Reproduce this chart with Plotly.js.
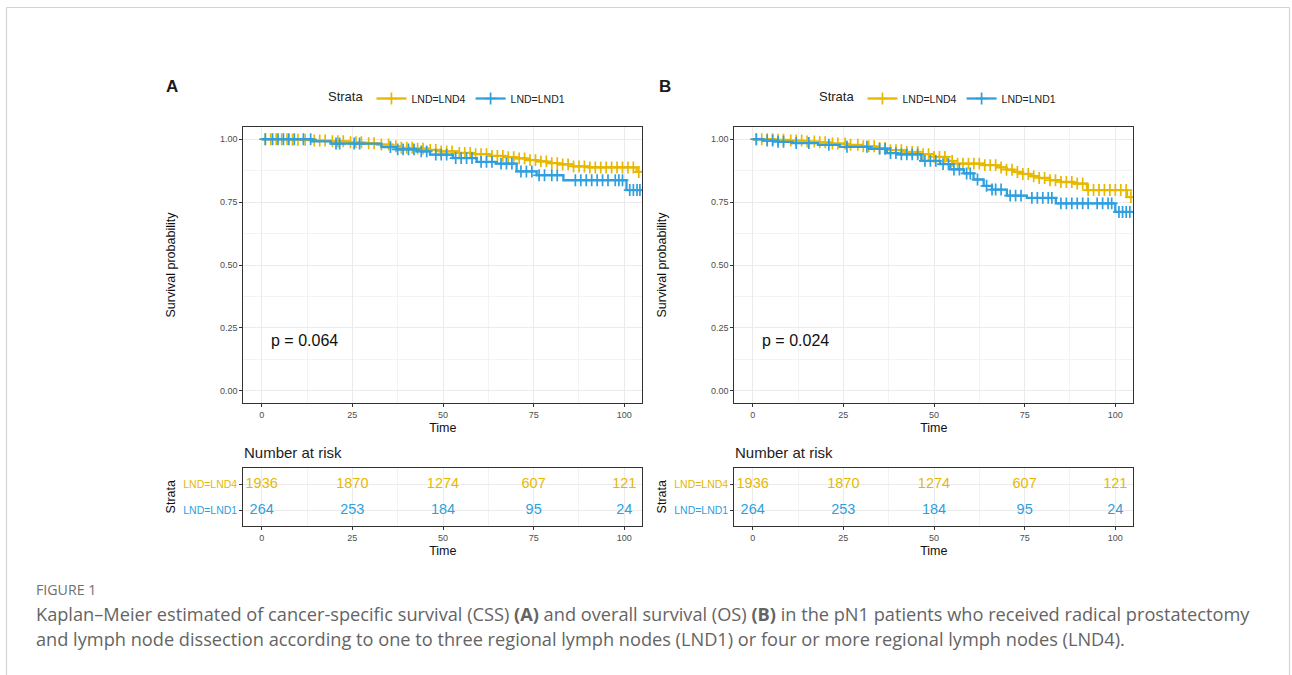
<!DOCTYPE html>
<html>
<head>
<meta charset="utf-8">
<script src="https://cdn.plot.ly/plotly-3.0.1.min.js"></script>
<style>
html,body{margin:0;padding:0;background:#fff;}
#chart{width:1292px;height:675px;}
</style>
</head>
<body>
<div id="chart"></div>
<script>
// ---------------- DATA ----------------
const strataNames = ['LND=LND4', 'LND=LND1'];
const colL4 = '#E7B800';
const colL1 = '#2E9FDF';

// Panel A: cancer-specific survival
const aL4Time = [0, 8, 14, 19, 24, 28, 32, 36, 38, 42, 46, 49, 54, 58, 63, 67, 70, 73, 76, 78.6, 82, 85.9, 90, 103.4];
const aL4Surv = [1.0, 0.998, 0.995, 0.992, 0.988, 0.984, 0.979, 0.972, 0.966, 0.963, 0.958, 0.952, 0.946, 0.941, 0.934, 0.929, 0.924, 0.917, 0.912, 0.905, 0.900, 0.892, 0.888, 0.870];
const aL4End = 104.8;
const aL4Censor = [1, 2.5, 4, 5.5, 7, 8.5, 10, 12, 14.5, 16, 17.5, 19.5, 21, 22.5, 24.5, 26, 27.5, 29.5, 31, 33, 35, 37, 38.5, 40, 41.5, 43, 44.5, 46.5, 48, 49.5, 51, 52.5, 54.5, 56, 57.5, 59, 60.5, 62, 63.5, 65, 66.5, 68, 69.5, 71, 72.5, 74, 75.5, 77, 78.5, 80, 81.5, 83, 84.5, 86, 87.5, 89, 90.5, 92, 93.5, 95, 96.5, 98, 99.5, 101, 102.5, 104];

const aL1Time = [0, 14, 19, 33, 37, 42.7, 46.4, 52.8, 59.3, 64.5, 70.3, 75.8, 83.2, 100.6];
const aL1Surv = [1.0, 0.992, 0.983, 0.969, 0.960, 0.952, 0.939, 0.925, 0.910, 0.903, 0.872, 0.857, 0.837, 0.798];
const aL1End = 104.8;
const aL1Censor = [1, 3, 4.5, 6, 7.5, 9, 11.5, 13.5, 20.5, 21.5, 25.5, 27, 35.5, 37.5, 39, 40.5, 42, 44, 45.5, 48, 49.5, 51, 53.5, 55, 56.5, 58, 60.5, 62, 63.5, 66, 67.5, 69, 71.5, 73, 74.5, 76.5, 78, 80, 81.5, 86.5, 88, 89.5, 91, 92.5, 94, 95.5, 97.5, 98.5, 99.5, 101.5, 102.5, 103.5, 104.3];

// Panel B: overall survival
const bL4Time = [0, 6, 10, 14, 18, 22, 26, 30, 34, 38, 42, 46, 50, 53.6, 55.4, 63.7, 67.4, 70, 72, 74.5, 76.6, 79, 82, 85, 88.6, 92.2, 103.2];
const bL4Surv = [1.0, 0.998, 0.995, 0.991, 0.988, 0.983, 0.978, 0.972, 0.965, 0.957, 0.950, 0.941, 0.930, 0.914, 0.903, 0.897, 0.888, 0.879, 0.870, 0.862, 0.853, 0.846, 0.837, 0.830, 0.824, 0.798, 0.770];
const bL4End = 104.8;
const bL4Censor = [1, 2.5, 4, 5.5, 7, 8.5, 10.5, 12, 13.5, 15, 17, 18.5, 20, 22, 23.5, 25.5, 27, 29, 30.5, 32, 33.5, 35, 36.5, 38, 39.5, 41, 42.5, 44, 45.5, 47, 48.5, 50, 51.5, 53, 55, 56.5, 58, 59.5, 61, 62.5, 64, 65.5, 67, 68.5, 70, 71.5, 73, 74.5, 76, 77.5, 79, 80.5, 82, 83.5, 85, 86.5, 88, 89.5, 91, 92.5, 94, 95.5, 97, 98.5, 100, 101.5, 103, 104.3];

const bL1Time = [0, 3, 7, 11, 18, 24, 32, 37, 40, 46.5, 51.7, 54.5, 58.2, 60.9, 63.7, 66, 70.1, 75.6, 83.6, 100];
const bL1Surv = [1.0, 0.995, 0.990, 0.985, 0.978, 0.970, 0.962, 0.945, 0.940, 0.914, 0.901, 0.880, 0.864, 0.840, 0.815, 0.800, 0.776, 0.767, 0.745, 0.711];
const bL1End = 104.8;
const bL1Censor = [1, 4, 5.5, 7, 8.5, 12, 15.5, 21, 26, 31.5, 35, 36.5, 38, 39.5, 41, 42.5, 44, 45.5, 47.5, 49, 50.5, 52.5, 54, 55.5, 57, 59, 60, 62, 64.5, 66, 67, 68.5, 71, 72.5, 74, 77, 78.5, 80, 81.5, 82.5, 85, 86.5, 88, 89.5, 91, 92.5, 95, 96.5, 98, 99, 101, 102, 103, 104];

// p-values
const pA = 'p = 0.064';
const pB = 'p = 0.024';

// Number at risk
const riskTimes = [0, 25, 50, 75, 100];
const riskL4 = [1936, 1870, 1274, 607, 121];
const riskL1 = [264, 253, 184, 95, 24];

// tick labels
const xTicks = [0, 25, 50, 75, 100];
const yTicks = [0, 0.25, 0.5, 0.75, 1.0];
const yTickText = ['0.00', '0.25', '0.50', '0.75', '1.00'];

// ---------------- HELPERS ----------------
const W = 1292, H = 675;
const px = x => x / W;
const py = y => 1 - y / H;
const FONT = 'Liberation Sans, Arial, sans-serif';

function survAt(times, surv, t) {
  let s = surv[0];
  for (let i = 0; i < times.length; i++) { if (times[i] <= t) s = surv[i]; }
  return s;
}

function curveTraces(times, surv, end, censor, color, name, xa, ya, legendId) {
  const tr = [];
  tr.push({
    type: 'scatter', mode: 'lines', x: times.concat([end]), y: surv.concat([surv[surv.length - 1]]),
    line: {color: color, width: 2.3, shape: 'hv'}, xaxis: xa, yaxis: ya, showlegend: false, hoverinfo: 'skip'
  });
  tr.push({
    type: 'scatter', mode: 'markers', x: censor, y: censor.map(t => survAt(times, surv, t)),
    marker: {symbol: 'cross-thin-open', size: 8.5, color: color, line: {color: color, width: 1.7}},
    xaxis: xa, yaxis: ya, showlegend: false, hoverinfo: 'skip'
  });
  tr.push({
    type: 'scatter', mode: 'lines+markers', x: [null], y: [null], name: name,
    line: {color: color, width: 2.3},
    marker: {symbol: 'cross-thin-open', size: 8.5, color: color, line: {color: color, width: 1.7}},
    xaxis: xa, yaxis: ya, showlegend: true, legend: legendId
  });
  return tr;
}

function riskTrace(vals, row, color, xa, ya) {
  return {
    type: 'scatter', mode: 'text', x: riskTimes, y: vals.map(() => row), text: vals.map(String),
    textposition: 'middle center', textfont: {family: FONT, size: 14.5, color: color},
    xaxis: xa, yaxis: ya, showlegend: false, hoverinfo: 'skip'
  };
}

let traces = [];
traces = traces.concat(curveTraces(aL4Time, aL4Surv, aL4End, aL4Censor, colL4, strataNames[0], 'x', 'y', 'legend'));
traces = traces.concat(curveTraces(aL1Time, aL1Surv, aL1End, aL1Censor, colL1, strataNames[1], 'x', 'y', 'legend'));
traces = traces.concat(curveTraces(bL4Time, bL4Surv, bL4End, bL4Censor, colL4, strataNames[0], 'x2', 'y2', 'legend2'));
traces = traces.concat(curveTraces(bL1Time, bL1Surv, bL1End, bL1Censor, colL1, strataNames[1], 'x2', 'y2', 'legend2'));
traces.push(riskTrace(riskL4, 2, colL4, 'x3', 'y3'));
traces.push(riskTrace(riskL1, 1, colL1, 'x3', 'y3'));
traces.push(riskTrace(riskL4, 2, colL4, 'x4', 'y4'));
traces.push(riskTrace(riskL1, 1, colL1, 'x4', 'y4'));

const XR = [-5.07, 104.96];
const gridMajor = '#EBEBEB';
const gridMinor = '#F3F3F3';

function xAxis(domain, anchor) {
  return {
    domain: domain, anchor: anchor, range: XR, tickvals: xTicks, ticktext: xTicks.map(String),
    ticks: 'outside', ticklen: 3, tickcolor: '#333', tickwidth: 1,
    tickfont: {family: FONT, size: 9, color: '#4D4D4D'},
    showgrid: true, gridcolor: gridMajor, gridwidth: 1,
    minor: {tickvals: [-12.5, 12.5, 37.5, 62.5, 87.5], showgrid: true, gridcolor: gridMinor, gridwidth: 1, ticks: ''},
    showline: true, mirror: true, linecolor: '#333', linewidth: 1, zeroline: false,
    title: {text: 'Time', font: {family: FONT, size: 12.5, color: '#111'}, standoff: 4},
    fixedrange: true
  };
}
function yAxisMain(domain, anchor) {
  return {
    domain: domain, anchor: anchor, range: [-0.05, 1.05], tickvals: yTicks, ticktext: yTickText,
    ticks: 'outside', ticklen: 3, tickcolor: '#333', tickwidth: 1,
    tickfont: {family: FONT, size: 9, color: '#4D4D4D'},
    showgrid: true, gridcolor: gridMajor, gridwidth: 1,
    minor: {tickvals: [0.125, 0.375, 0.625, 0.875], showgrid: true, gridcolor: gridMinor, gridwidth: 1, ticks: ''},
    showline: true, mirror: true, linecolor: '#333', linewidth: 1, zeroline: false,
    title: {text: 'Survival probability', font: {family: FONT, size: 12.5, color: '#111'}, standoff: 41},
    fixedrange: true
  };
}
function yAxisRisk(domain, anchor) {
  return {
    domain: domain, anchor: anchor, range: [0.42, 2.62], tickvals: [2, 1],
    ticktext: ['<span style="color:' + colL4 + '">' + strataNames[0] + '</span>',
               '<span style="color:' + colL1 + '">' + strataNames[1] + '</span>'],
    ticks: 'outside', ticklen: 3, tickcolor: '#333', tickwidth: 1,
    tickfont: {family: FONT, size: 10.5, color: '#333'},
    showgrid: true, gridcolor: gridMajor, gridwidth: 1,
    showline: true, mirror: true, linecolor: '#333', linewidth: 1, zeroline: false,
    title: {text: 'Strata', font: {family: FONT, size: 12.5, color: '#111'}, standoff: 4},
    fixedrange: true
  };
}

const domA = [px(243.3), px(642.3)];
const domB = [px(734.3), px(1133.3)];
const domMain = [py(403.3), py(126.7)];
const domRisk = [py(525.7), py(467.7)];

function legendCfg(xLeft) {
  return {
    orientation: 'h', x: px(xLeft), y: py(98.5), xanchor: 'left', yanchor: 'middle',
    title: {text: 'Strata', font: {family: FONT, size: 13, color: '#222'}, side: 'left'},
    font: {family: FONT, size: 10.5, color: '#222'}, bgcolor: 'rgba(0,0,0,0)',
    itemwidth: 30, tracegroupgap: 0, itemclick: false, itemdoubleclick: false
  };
}

const captionFont = {family: 'Open Sans, sans-serif', size: 18.2, color: '#646464'};

const annotations = [
  {text: '<b>A</b>', x: px(164), y: py(86), xref: 'paper', yref: 'paper', xanchor: 'left', yanchor: 'middle', showarrow: false, font: {family: FONT, size: 17, color: '#1a1a1a'}},
  {text: '<b>B</b>', x: px(657), y: py(86), xref: 'paper', yref: 'paper', xanchor: 'left', yanchor: 'middle', showarrow: false, font: {family: FONT, size: 17, color: '#1a1a1a'}},
  {text: pA, x: 2, y: 0.2, xref: 'x', yref: 'y', xanchor: 'left', yanchor: 'middle', showarrow: false, font: {family: FONT, size: 16, color: '#111'}},
  {text: pB, x: 2, y: 0.2, xref: 'x2', yref: 'y2', xanchor: 'left', yanchor: 'middle', showarrow: false, font: {family: FONT, size: 16, color: '#111'}},
  {text: 'Number at risk', x: px(242), y: py(452.5), xref: 'paper', yref: 'paper', xanchor: 'left', yanchor: 'middle', showarrow: false, font: {family: FONT, size: 15, color: '#222'}},
  {text: 'Number at risk', x: px(733), y: py(452.5), xref: 'paper', yref: 'paper', xanchor: 'left', yanchor: 'middle', showarrow: false, font: {family: FONT, size: 15, color: '#222'}},
  {text: 'FIGURE 1', x: px(34), y: py(589), xref: 'paper', yref: 'paper', xanchor: 'left', yanchor: 'middle', showarrow: false, font: {family: 'Open Sans, sans-serif', size: 14.2, color: '#707070'}},
  {text: 'Kaplan\u2013Meier estimated of cancer-specific survival (CSS) <b>(A)</b> and overall survival (OS) <b>(B)</b> in the pN1 patients who received radical prostatectomy', x: px(34), y: py(614), xref: 'paper', yref: 'paper', xanchor: 'left', yanchor: 'middle', showarrow: false, font: captionFont},
  {text: 'and lymph node dissection according to one to three regional lymph nodes (LND1) or four or more regional lymph nodes (LND4).', x: px(34), y: py(638.5), xref: 'paper', yref: 'paper', xanchor: 'left', yanchor: 'middle', showarrow: false, font: captionFont}
];

const shapes = [
  {type: 'line', xref: 'paper', yref: 'paper', x0: px(6.5), x1: px(6.5), y0: py(7.5), y1: py(680), line: {color: '#D3D3D3', width: 1.2}},
  {type: 'line', xref: 'paper', yref: 'paper', x0: px(6.5), x1: px(1289.5), y0: py(7.5), y1: py(7.5), line: {color: '#D3D3D3', width: 1.2}},
  {type: 'line', xref: 'paper', yref: 'paper', x0: px(1289.5), x1: px(1289.5), y0: py(7.5), y1: py(680), line: {color: '#D3D3D3', width: 1.2}}
];

const layout = {
  width: W, height: H, margin: {l: 0, r: 0, t: 0, b: 0, pad: 0},
  paper_bgcolor: '#fff', plot_bgcolor: '#fff',
  font: {family: FONT, color: '#222'},
  xaxis: xAxis(domA, 'y'), yaxis: yAxisMain(domMain, 'x'),
  xaxis2: xAxis(domB, 'y2'), yaxis2: yAxisMain(domMain, 'x2'),
  xaxis3: xAxis(domA, 'y3'), yaxis3: yAxisRisk(domRisk, 'x3'),
  xaxis4: xAxis(domB, 'y4'), yaxis4: yAxisRisk(domRisk, 'x4'),
  legend: legendCfg(326),
  legend2: legendCfg(817),
  annotations: annotations,
  shapes: shapes,
  hovermode: false
};

Plotly.newPlot('chart', traces, layout, {displayModeBar: false, staticPlot: true});
</script>
</body>
</html>
